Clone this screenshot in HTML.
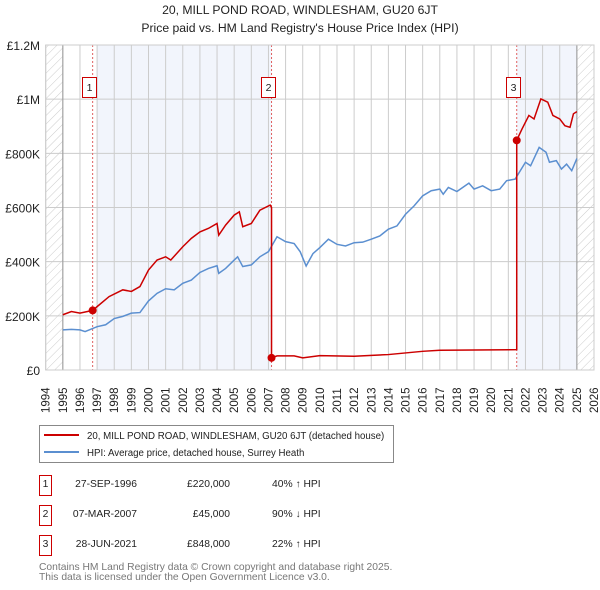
<!DOCTYPE html>
<html><head><meta charset="utf-8"><style>
body{margin:0;background:#fff;font-family:"Liberation Sans","DejaVu Sans",sans-serif;}
svg{display:block}
</style></head><body>
<svg id="chart" width="600" height="590" viewBox="0 0 600 590" xmlns="http://www.w3.org/2000/svg">
<defs><pattern id="hatch" width="6" height="6" patternUnits="userSpaceOnUse" patternTransform="rotate(45)"><line x1="0" y1="0" x2="0" y2="6" stroke="#ccc" stroke-width="1"/></pattern></defs>
<text x="300" y="14" text-anchor="middle" font-size="12.2" fill="#222">20, MILL POND ROAD, WINDLESHAM, GU20 6JT</text>
<text x="300" y="32" text-anchor="middle" font-size="12.2" fill="#222">Price paid vs. HM Land Registry's House Price Index (HPI)</text>
<g id="plot"></g>
<g>
<rect x="39.5" y="425.5" width="354" height="37" fill="#fff" stroke="#888"/>
<line x1="44" y1="435" x2="79" y2="435" stroke="#cc0000" stroke-width="2"/>
<text x="87" y="439" font-size="9.7" fill="#222">20, MILL POND ROAD, WINDLESHAM, GU20 6JT (detached house)</text>
<line x1="44" y1="452" x2="79" y2="452" stroke="#5b8fd0" stroke-width="2"/>
<text x="87" y="456" font-size="9.7" fill="#222">HPI: Average price, detached house, Surrey Heath</text>
</g>
<g font-size="10.3" fill="#222">
<rect x="39.5" y="475.5" width="12" height="20" fill="#fff" stroke="#cc0000"/><text x="45.5" y="487" text-anchor="middle">1</text>
<text x="137" y="487" text-anchor="end">27-SEP-1996</text><text x="230" y="487" text-anchor="end">£220,000</text><text x="272" y="487">40% ↑ HPI</text>
<rect x="39.5" y="505.5" width="12" height="20" fill="#fff" stroke="#cc0000"/><text x="45.5" y="517" text-anchor="middle">2</text>
<text x="137" y="517" text-anchor="end">07-MAR-2007</text><text x="230" y="517" text-anchor="end">£45,000</text><text x="272" y="517">90% ↓ HPI</text>
<rect x="39.5" y="535.5" width="12" height="20" fill="#fff" stroke="#cc0000"/><text x="45.5" y="547" text-anchor="middle">3</text>
<text x="137" y="547" text-anchor="end">28-JUN-2021</text><text x="230" y="547" text-anchor="end">£848,000</text><text x="272" y="547">22% ↑ HPI</text>
</g>
<text x="39" y="570" font-size="10.3" fill="#777">Contains HM Land Registry data © Crown copyright and database right 2025.</text>
<text x="39" y="580" font-size="10.3" fill="#777">This data is licensed under the Open Government Licence v3.0.</text>
</svg>
<script>
const hpiYears=[1995,1995.5,1996,1996.3,1997,1997.5,1998,1998.5,1999,1999.5,2000,2000.5,2001,2001.5,2002,2002.5,2003,2003.5,2004,2004.1,2004.5,2005,2005.2,2005.5,2006,2006.5,2007,2007.5,2008,2008.5,2008.85,2009.2,2009.6,2010,2010.5,2011,2011.5,2012,2012.5,2013,2013.5,2014,2014.5,2015,2015.5,2016,2016.5,2017,2017.2,2017.5,2018,2018.7,2019,2019.5,2020,2020.5,2020.9,2021.4,2022,2022.3,2022.8,2023.2,2023.4,2023.8,2024.1,2024.4,2024.7,2025];
const hpiValues=[148,150,148,142,160,167,190,198,210,212,255,283,300,296,320,332,360,375,385,357,375,406,418,382,388,418,437,492,474,467,437,384,430,452,483,464,458,470,472,483,495,520,532,575,606,643,662,668,649,674,659,690,668,680,662,668,699,705,767,754,822,804,767,773,742,760,736,781];
const priceYears=[1995,1995.5,1996,1996.74,1997,1997.7,1998.5,1999,1999.5,2000,2000.5,2001,2001.3,2002,2002.5,2003,2003.5,2004,2004.1,2004.5,2005,2005.3,2005.5,2006,2006.5,2007.1,2007.18,2007.18,2007.5,2008.5,2009,2010,2012,2014,2016,2017,2021.49,2021.49,2021.8,2022.2,2022.5,2022.9,2023.3,2023.6,2024,2024.3,2024.6,2024.8,2025];
const priceValues=[204,216,210,220,234,271,296,290,308,369,406,418,406,455,486,510,523,541,498,535,572,584,529,541,590,609,600,45,52,52,45,53,51,57,69,73,75,848,890,940,927,1001,989,940,927,902,896,946,954];
const saleLabels=['1','2','3'];
const saleYears=[1996.74,2007.18,2021.49];
const saleValues=[220,45,848];
const yTicks=[0,200,400,600,800,1000,1200];
const yTickLabels=['£0','£200K','£400K','£600K','£800K','£1M','£1.2M'];
const xMin=1994,xMax=2026,yMax=1200;
const L=45.7,R=594,T=45,B=370;
const X=y=>L+(y-xMin)/(xMax-xMin)*(R-L);
const Y=v=>B-v/yMax*(B-T);
const NS='http://www.w3.org/2000/svg';
const g=document.getElementById('plot');
function mk(tag,attrs,parent){const e=document.createElementNS(NS,tag);for(const k in attrs)e.setAttribute(k,attrs[k]);(parent||g).appendChild(e);return e;}
let e;
e=mk('rect',{x:L,y:T,width:X(1995)-L,height:B-T,fill:'url(#hatch)'});


e=mk('rect',{x:X(2025),y:T,width:R-X(2025),height:B-T,fill:'url(#hatch)'});


e=mk('rect',{x:X(1997),y:T,width:X(2007.18)-X(1997),height:B-T,fill:'#f2f5fc'});


e=mk('rect',{x:X(2021.49),y:T,width:X(2025)-X(2021.49),height:B-T,fill:'#f2f5fc'});


for(let yr=xMin;yr<=xMax;yr++){
 e=mk('line',{x1:X(yr),x2:X(yr),y1:T,y2:B,stroke:'#ccc','stroke-width':1});
 
 
 e=mk('text',{x:0,y:0,transform:`translate(${X(yr)+4},${B+43}) rotate(-90)`,'font-size':11.5,fill:'#222'});
 e.textContent=yr;
 
 
}
yTicks.forEach((v,i)=>{
 e=mk('line',{x1:L,x2:R,y1:Y(v),y2:Y(v),stroke:'#ccc','stroke-width':1});
 
 
 e=mk('text',{x:40,y:Y(v)+5,'text-anchor':'end','font-size':12,fill:'#222'});
 e.textContent=yTickLabels[i];
 
 
});
e=mk('line',{x1:X(1995),x2:X(1995),y1:T,y2:B,stroke:'#999'});


e=mk('line',{x1:X(2025),x2:X(2025),y1:T,y2:B,stroke:'#999'});


saleYears.forEach((yr,i)=>{
 e=mk('line',{x1:X(yr),x2:X(yr),y1:T,y2:B,stroke:'#e06060','stroke-dasharray':'2,2','stroke-width':1});
 
 
});
e=mk('polyline',{points:hpiYears.map((y,i)=>X(y)+','+Y(hpiValues[i])).join(' '),fill:'none',stroke:'#5b8fd0','stroke-width':1.5});


e=mk('polyline',{points:priceYears.map((y,i)=>X(y)+','+Y(priceValues[i])).join(' '),fill:'none',stroke:'#cc0000','stroke-width':1.5});


saleYears.forEach((yr,i)=>{
 e=mk('circle',{cx:X(yr),cy:Y(saleValues[i]),r:4,fill:'#cc0000'});
 
 
 e=mk('rect',{x:Math.round(X(yr)-11)+.5,y:77.5,width:14,height:20,fill:'#fff',stroke:'#cc0000'});
 
 
 e=mk('text',{x:Math.round(X(yr)-11)+7.5,y:91,'text-anchor':'middle','font-size':10.5,fill:'#222'});
 e.textContent=saleLabels[i];
 
 
});
e=mk('rect',{x:L,y:T,width:R-L,height:B-T,fill:'none',stroke:'#ccc'});


</script>
</body></html>
